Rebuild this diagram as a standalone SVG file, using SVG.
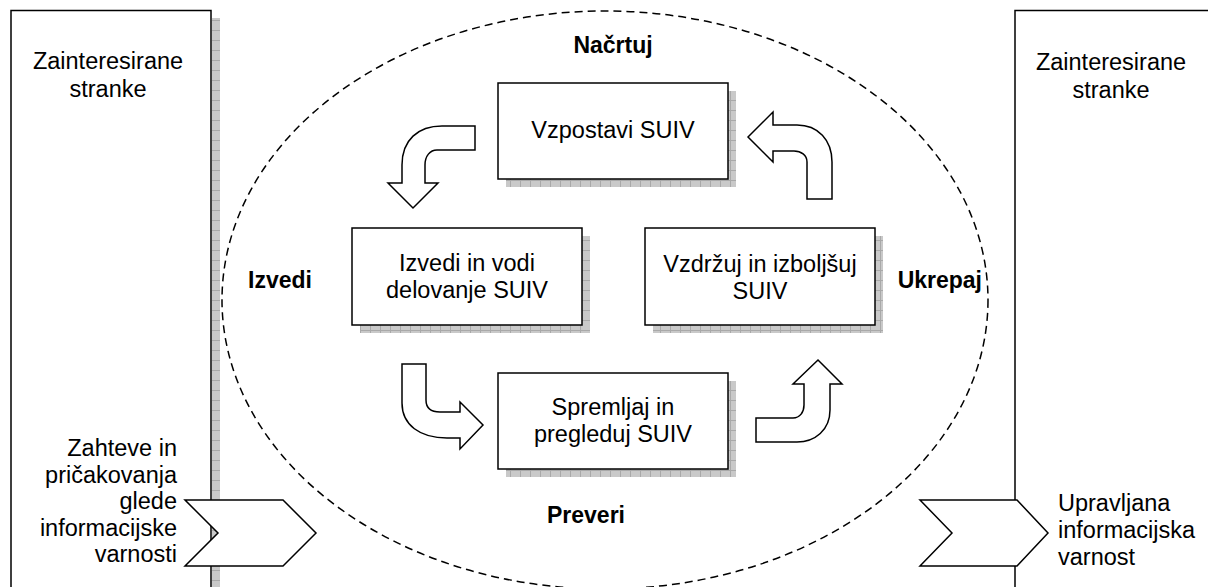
<svg xmlns="http://www.w3.org/2000/svg" width="1208" height="587" viewBox="0 0 1208 587">
<style>
.box{fill:#fff;stroke:#000;stroke-width:1.5}
.sh{fill:url(#grid);stroke:none}
.t{font-family:"Liberation Sans",Arial,sans-serif;font-size:23.5px;fill:#000}
.b{font-family:"Liberation Sans",Arial,sans-serif;font-size:23px;font-weight:bold;fill:#000}
.arr{fill:#fff;stroke:#000;stroke-width:1.5;stroke-linejoin:miter}
</style>
<defs>
<pattern id="grid" width="10" height="10" patternUnits="userSpaceOnUse">
<rect width="10" height="10" fill="#c9c9c9"/>
<path d="M0 0.5H10M0.5 0V10" stroke="#a9a9a9" stroke-width="1"/>
</pattern>
</defs>
<rect width="1208" height="587" fill="#fff"/>

<g id="stakeholders-left">
<rect class="sh" x="212" y="18" width="8" height="580"/>
<rect class="box" x="11" y="10.5" width="200" height="600"/>
<text class="t" text-anchor="middle" x="108" y="69">Zainteresirane</text>
<text class="t" text-anchor="middle" x="108" y="97">stranke</text>
<text class="t" text-anchor="end" x="177" y="456">Zahteve in</text>
<text class="t" text-anchor="end" x="177" y="482.5">pričakovanja</text>
<text class="t" text-anchor="end" x="177" y="509">glede</text>
<text class="t" text-anchor="end" x="177" y="535.5">informacijske</text>
<text class="t" text-anchor="end" x="177" y="562">varnosti</text>
</g>

<g id="stakeholders-right">
<rect class="box" x="1015" y="10.5" width="260" height="600"/>
<text class="t" text-anchor="middle" x="1111" y="70">Zainteresirane</text>
<text class="t" text-anchor="middle" x="1111" y="98">stranke</text>
<text class="t" x="1058" y="511">Upravljana</text>
<text class="t" x="1058" y="538">informacijska</text>
<text class="t" x="1058" y="565">varnost</text>
</g>

<g id="input-chevron">
<polygon class="arr" points="185,500 283,500 316,533 283,566 185,566 218,533"/>
</g>
<g id="output-chevron">
<polygon class="arr" points="920,500 1017,500 1048,533 1017,566 920,566 952,533"/>
</g>

<g id="cycle">
<ellipse cx="605" cy="300" rx="383" ry="289" fill="none" stroke="#000" stroke-width="1.5" stroke-dasharray="8 5"/>
</g>

<g id="label-plan"><text class="b" text-anchor="middle" x="613" y="53">Načrtuj</text></g>
<g id="label-do"><text class="b" x="248" y="288">Izvedi</text></g>
<g id="label-act"><text class="b" text-anchor="end" x="982" y="288">Ukrepaj</text></g>
<g id="label-check"><text class="b" x="547" y="523">Preveri</text></g>

<g id="establish">
<rect class="sh" x="506" y="91" width="230" height="96"/>
<rect class="box" x="498" y="83" width="230" height="96"/>
<text class="t" text-anchor="middle" x="613" y="138">Vzpostavi SUIV</text>
</g>

<g id="implement">
<rect class="sh" x="360" y="236" width="230" height="97"/>
<rect class="box" x="352" y="228" width="230" height="97"/>
<text class="t" text-anchor="middle" x="467" y="271">Izvedi in vodi</text>
<text class="t" text-anchor="middle" x="467" y="298">delovanje SUIV</text>
</g>

<g id="maintain">
<rect class="sh" x="653" y="236" width="230" height="97"/>
<rect class="box" x="645" y="228" width="230" height="97"/>
<text class="t" text-anchor="middle" x="760" y="272">Vzdržuj in izboljšuj</text>
<text class="t" text-anchor="middle" x="760" y="299">SUIV</text>
</g>

<g id="monitor">
<rect class="sh" x="506" y="381" width="230" height="96"/>
<rect class="box" x="498" y="373" width="230" height="96"/>
<text class="t" text-anchor="middle" x="613" y="415">Spremljaj in</text>
<text class="t" text-anchor="middle" x="613" y="442">pregleduj SUIV</text>
</g>

<g id="connectors">
<path class="arr" d="M475,126 L475,150 L437,150 C430,150 425,156 425,165 L425,183 L438,183 L413,208 L388,183 L402,183 L402,165 C402,140 418,126 442,126 Z"/>
<path class="arr" d="M748,137 L773,112 L773,125 L797,125 C818,125 832,140 832,162 L832,199 L807,199 L807,162 C807,155 801,151 794,151 L773,151 L773,162 Z"/>
<path class="arr" d="M402,364 L426,364 L426,400 C426,408 431,412 440,412 L460,412 L460,402 L483,425 L460,449 L460,438 L447,438 C420,438 402,425 402,403 Z"/>
<path class="arr" d="M818,360 L842,384 L830,384 L830,410 C830,430 815,442 797,442 L756,442 L756,418 L793,418 C800,418 804,412 804,405 L804,384 L793,384 Z"/>
</g>
</svg>
